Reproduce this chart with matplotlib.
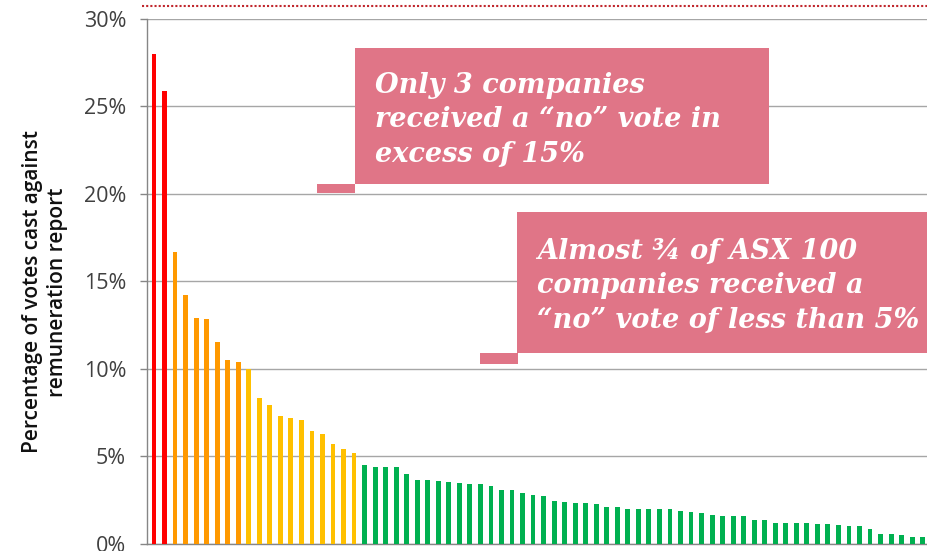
import numpy as np
import matplotlib.pyplot as plt
from matplotlib.patches import Rectangle
from matplotlib.lines import Line2D
from matplotlib.ticker import FuncFormatter

# votes against remuneration report (%), sorted, coloured by band
red_vals = [28.0, 25.9]
orange_vals = [16.7, 14.2, 12.9, 12.85, 11.55, 10.5, 10.4]
yellow_vals = [10.0, 8.3, 7.9, 7.3, 7.2, 7.05, 6.45, 6.25, 5.7, 5.4, 5.2]
green_vals = [4.5, 4.4, 4.35, 4.35, 4.0, 3.65, 3.65, 3.6, 3.5, 3.45, 3.4, 3.4,
              3.3, 3.05, 3.05, 2.9, 2.75, 2.7, 2.45, 2.4, 2.3, 2.3, 2.25, 2.1,
              2.1, 2.0, 2.0, 2.0, 2.0, 2.0, 1.85, 1.8, 1.75, 1.65, 1.6, 1.55,
              1.55, 1.35, 1.35, 1.2, 1.2, 1.15, 1.15, 1.1, 1.1, 1.05, 1.0, 1.0,
              0.85, 0.55, 0.55, 0.5, 0.4, 0.4]
band_colors = ["#FF0000", "#FF9900", "#FFC000", "#00B050"]
y_ticks = [0, 5, 10, 15, 20, 25, 30]
y_label = "Percentage of votes cast against\nremuneration report"
note1 = "Only 3 companies\nreceived a \u201cno\u201d vote in\nexcess of 15%"
note2 = "Almost \u00be of ASX 100\ncompanies received a\n\u201cno\u201d vote of less than 5%"

W, H = 927, 551
PINK = "#E07587"

fig = plt.figure(figsize=(W / 100, H / 100), dpi=100)


def px(x0, y0, x1, y1):
    # pixel box (top-left origin) -> figure fraction rect
    return x0 / W, 1 - y1 / H, (x1 - x0) / W, (y1 - y0) / H


ax = fig.add_axes(px(147, 19, 927, 543.5))

vals = red_vals + orange_vals + yellow_vals + green_vals
cols = ([band_colors[0]] * len(red_vals) + [band_colors[1]] * len(orange_vals)
        + [band_colors[2]] * len(yellow_vals) + [band_colors[3]] * len(green_vals))
x = np.arange(len(vals))
ax.bar(x, vals, width=0.46, color=cols, edgecolor="none", zorder=3)

ax.set_ylim(0, 30)
ax.set_xlim(-0.665, 73.41)
ax.set_yticks(y_ticks)
ax.yaxis.set_major_formatter(FuncFormatter(lambda v, p: f"{v:.0f}%"))
ax.set_xticks([])
ax.grid(axis="y", color="#A6A6A6", linewidth=1.0, zorder=0)
for s in ["top", "right"]:
    ax.spines[s].set_visible(False)
for s in ["left", "bottom"]:
    ax.spines[s].set_color("#868686")
    ax.spines[s].set_linewidth(1.0)
ax.tick_params(axis="y", direction="out", length=5, width=1, color="#868686",
               labelsize=15.5, labelcolor="#404040", pad=10)
for t in ax.get_yticklabels():
    t.set_fontfamily("Open Sans")

fig.text(45 / W, 1 - 292 / H, y_label, rotation=90, ha="center", va="center",
         fontsize=15, fontfamily="Open Sans", fontweight="semibold",
         color="#111111", linespacing=1.3, multialignment="center")

# dotted rule at top
fig.add_artist(Line2D([142 / W, 1], [1 - 6 / H] * 2, color="#C0272D",
                      linewidth=1.5, dashes=(1, 1), transform=fig.transFigure))

# callout boxes with small tabs
for box in [px(355, 48, 769, 184), px(317, 184, 355, 193),
            px(517, 212, 927, 353), px(480, 353, 518, 363.5)]:
    fig.add_artist(Rectangle(box[:2], box[2], box[3], facecolor=PINK,
                             edgecolor="none", transform=fig.transFigure, zorder=5))

fnt = dict(color="white", fontfamily="DejaVu Serif", fontweight="bold",
           fontstyle="italic", fontsize=19.5, ha="left", va="baseline",
           linespacing=1.36, zorder=6)
fig.text(375 / W, 1 - 162 / H, note1, **fnt)
fig.text(537 / W, 1 - 328 / H, note2, **fnt)

fig.savefig("out.png", dpi=100)
